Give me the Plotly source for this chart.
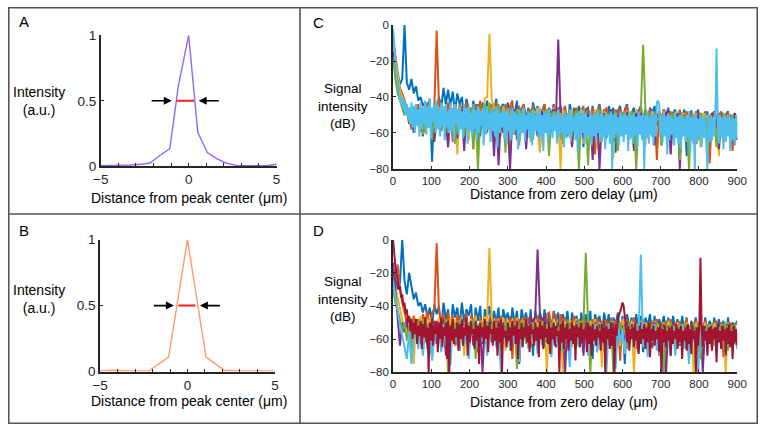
import plotly.graph_objects as go

# ---------------- data ----------------
# Panel A / B : normalised peak profiles
xA = [-5, -4.4, -3.8, -3.3, -2.7, -2.2, -1.6, -1.07, -0.59, 0, 0.52, 1.06, 1.57, 2.1, 2.7, 3.3, 3.8, 4.4, 5]
yA = [0.005, 0.006, 0.008, 0.01, 0.015, 0.025, 0.086, 0.135, 0.61, 1.0, 0.26, 0.105, 0.06, 0.025, 0.007, 0.005, 0.004, 0.004, 0.015]
xB = [-5, -4.3, -3.2, -2.2, -1.08, 0, 1.06, 2.1, 3.2, 4.3, 5]
yB = [0.005, 0.01, 0.005, 0.005, 0.11, 1.0, 0.11, 0.01, 0.005, 0.008, 0.005]
fwhm_A = [-0.7, 0.31]
fwhm_B = [-0.52, 0.45]

# Panels C / D : signal vs distance (dB)
x_um = list(range(0, 901, 6))       # background traces, every 6 um
x_um_fine = list(range(0, 901, 3))  # front traces, every 3 um

C1 = [-5,-22,-28,-33,-30,0,-32,-36,-30,-38,
-34,-42,-40,-45,-43,-48,-41,-76,-44,-47,
-40,-46,-35,-44,-36,-45,-37,-48,-38,-44,
-40,-52,-41,-47,-58,-42,-50,-44,-62,-43,
-49,-42,-55,-45,-48,-41,-60,-46,-44,-53,
-43,-57,-45,-50,-42,-64,-47,-44,-52,-46,
-58,-43,-49,-45,-66,-48,-44,-55,-46,-51,
-44,-59,-47,-45,-53,-48,-62,-44,-50,-46,
-57,-45,-49,-68,-47,-46,-54,-45,-60,-48,
-44,-52,-47,-63,-45,-50,-46,-71,-48,-45,
-55,-47,-44,-58,-49,-46,-65,-48,-45,-53,
-47,-60,-46,-49,-45,-56,-48,-67,-47,-50,
-46,-58,-49,-47,-62,-48,-51,-47,-73,-49,
-48,-55,-50,-47,-61,-49,-52,-48,-66,-50,
-48,-57,-49,-52,-64,-50,-48,-59,-51,-49,
-56]
C2 = [-8,-17,-25,-35,-38,-42,-45,-50,-58,-47,
-55,-44,-59,-46,-52,-43,-56,-48,-45,-3,
-44,-50,-46,-62,-43,-48,-65,-45,-51,-44,
-47,-58,-43,-53,-46,-69,-44,-49,-42,-56,
-45,-60,-47,-44,-52,-43,-66,-46,-50,-44,
-57,-45,-42,-61,-48,-45,-54,-44,-63,-47,
-49,-45,-58,-46,-70,-48,-44,-53,-47,-60,
-45,-51,-46,-64,-48,-45,-56,-47,-67,-49,
-46,-55,-48,-45,-62,-47,-50,-46,-72,-48,
-45,-57,-49,-46,-53,-48,-65,-47,-50,-46,
-59,-48,-45,-54,-49,-68,-47,-51,-46,-61,
-48,-50,-47,-56,-49,-75,-48,-52,-47,-58,
-50,-48,-63,-49,-52,-47,-60,-50,-48,-55,
-49,-66,-48,-51,-50,-59,-48,-53,-77,-50,
-49,-57,-51,-48,-62,-50,-49,-54,-70,-50,
-52]
C3 = [-12,-20,-28,-36,-40,-44,-48,-46,-52,-45,
-50,-47,-55,-46,-60,-48,-52,-47,-62,-49,
-46,-58,-50,-47,-66,-48,-53,-46,-72,-49,
-47,-56,-48,-64,-47,-51,-46,-75,-48,-52,
-41,-40,-5,-41,-46,-55,-47,-62,-45,-50,
-46,-68,-48,-53,-47,-60,-49,-46,-57,-48,
-65,-47,-50,-46,-71,-48,-52,-47,-59,-49,
-46,-56,-48,-80,-47,-51,-49,-63,-47,-55,
-48,-50,-47,-66,-49,-53,-48,-58,-47,-69,
-49,-52,-48,-61,-50,-47,-74,-49,-53,-48,
-57,-50,-48,-64,-49,-52,-47,-60,-50,-48,
-67,-49,-53,-48,-58,-51,-49,-62,-48,-55,
-50,-71,-49,-52,-48,-59,-51,-49,-65,-50,
-53,-49,-57,-51,-68,-49,-52,-50,-61,-49,
-54,-50,-73,-51,-49,-56,-50,-63,-52,-49,
-58]
C4 = [-15,-25,-33,-40,-45,-50,-47,-55,-48,-60,
-46,-53,-49,-62,-47,-57,-50,-48,-65,-51,
-47,-59,-49,-54,-68,-48,-52,-46,-63,-50,
-47,-70,-49,-55,-48,-61,-46,-66,-50,-53,
-48,-58,-50,-47,-73,-49,-78,-51,-60,-48,
-56,-80,-50,-47,-64,-49,-52,-48,-69,-50,
-47,-58,-49,-62,-51,-48,-55,-50,-66,-49,
-47,-53,-8,-49,-60,-48,-52,-50,-68,-49,
-47,-57,-50,-63,-48,-51,-49,-75,-50,-48,
-80,-52,-49,-59,-50,-47,-65,-49,-53,-48,
-61,-50,-49,-56,-51,-70,-49,-52,-48,-62,
-50,-49,-58,-51,-67,-49,-53,-50,-60,-49,
-48,-72,-50,-54,-49,-80,-51,-50,-63,-49,
-55,-50,-66,-51,-49,-58,-50,-62,-52,-49,
-57,-50,-69,-51,-49,-60,-52,-50,-55,-49,
-64]
C5 = [-18,-30,-38,-42,-46,-50,-48,-54,-47,-52,
-49,-56,-48,-61,-50,-53,-47,-64,-49,-55,
-48,-58,-46,-51,-60,-49,-47,-66,-50,-53,
-48,-62,-49,-56,-47,-69,-48,-80,-50,-54,
-44,-58,-43,-52,-47,-63,-44,-55,-48,-71,
-46,-53,-49,-60,-47,-67,-48,-52,-50,-58,
-47,-64,-49,-54,-48,-61,-50,-47,-73,-49,
-52,-48,-59,-50,-66,-49,-53,-48,-62,-50,
-47,-80,-49,-56,-48,-78,-51,-50,-60,-49,
-47,-65,-50,-53,-49,-58,-51,-48,-70,-50,
-49,-57,-50,-63,-48,-52,-80,-50,-48,-11,
-47,-56,-50,-62,-49,-53,-51,-67,-49,-55,
-50,-60,-49,-53,-51,-75,-49,-52,-50,-80,
-51,-58,-50,-64,-49,-55,-51,-61,-50,-53,
-52,-68,-50,-56,-49,-62,-51,-53,-50,-59,
-55]
C6 = [-2,-12,-20,-28,-32,-36,-38,-44,-40,-47,
-42,-50,-44,-52,-46,-55,-43,-57,-45,-60,
-44,-56,-47,-62,-43,-58,-46,-55,-42,-61,
-45,-57,-41,-63,-46,-54,-44,-60,-42,-58,
-47,-62,-43,-56,-45,-64,-44,-57,-48,-60,
-43,-59,-46,-65,-44,-55,-47,-61,-45,-58,
-48,-63,-44,-57,-46,-66,-45,-59,-49,-62,
-44,-58,-47,-64,-45,-60,-48,-56,-46,-67,
-47,-61,-45,-58,-49,-65,-46,-59,-48,-62,
-45,-68,-47,-60,-49,-57,-46,-63,-48,-66,
-47,-59,-50,-64,-46,-61,-48,-58,-50,-69,
-47,-62,-49,-60,-46,-65,-50,-58,-48,-63,
-49,-67,-47,-61,-50,-59,-48,-64,-46,-62,
-50,-70,-48,-60,-49,-65,-47,-61,-51,-63,
-48,-59,-50,-66,-47,-62,-49,-60,-51,-68,
-48,-63,-50,-61,-47,-65,-49,-59,-51,-64,
-49,-71,-48,-62,-50,-60,-47,-66,-49,-63,
-51,-61,-48,-67,-50,-62,-49,-64,-47,-60,
-50,-65,-48,-62,-51,-69,-49,-61,-50,-66,
-48,-80,-50,-63,-49,-60,-51,-67,-48,-62,
-50,-65,-49,-61,-51,-70,-48,-63,-50,-66,
-49,-62,-51,-68,-48,-61,-50,-64,-49,-80,
-50,-63,-48,-66,-51,-61,-49,-67,-50,-62,
-43,-42,-44,-60,-50,-65,-49,-62,-51,-72,
-49,-64,-50,-61,-52,-67,-48,-63,-51,-66,
-50,-69,-49,-62,-52,-65,-50,-63,-48,-71,
-51,-64,-50,-80,-49,-66,-52,-62,-50,-68,
-51,-63,-49,-67,-80,-52,-65,-50,-64,-51,
-62,-50,-13,-52,-66,-50,-63,-51,-69,-49,
-65,-52,-62,-50,-70,-51,-64,-52,-67,-50,
-63]

D1 = [-18,-24,-30,-26,0,-25,-33,-20,-28,-36,
-32,-40,-38,-44,-39,-47,-41,-52,-39,-45,
-40,-55,-38,-48,-42,-60,-39,-47,-41,-53,
-38,-50,-42,-46,-39,-58,-41,-49,-40,-63,
-42,-47,-40,-54,-43,-50,-41,-66,-42,-48,
-44,-57,-41,-51,-43,-62,-42,-49,-44,-56,
-42,-70,-43,-50,-44,-58,-42,-53,-45,-61,
-43,-49,-44,-67,-45,-52,-43,-59,-44,-51,
-46,-64,-44,-53,-45,-57,-43,-72,-45,-50,
-46,-60,-44,-54,-45,-63,-47,-51,-44,-58,
-46,-75,-45,-53,-47,-61,-45,-55,-46,-68,
-47,-52,-45,-59,-46,-64,-48,-53,-46,-57,
-47,-70,-46,-54,-48,-62,-46,-56,-47,-66,
-49,-53,-47,-60,-48,-73,-47,-55,-49,-58,
-47,-65,-48,-54,-49,-61,-47,-57,-50,-52,
-49]
D2 = [-20,-22,-15,-30,-38,-44,-50,-47,-55,-46,
-52,-48,-60,-45,-50,-43,-57,-44,-42,-2,
-43,-49,-45,-58,-44,-52,-46,-64,-45,-50,
-47,-56,-44,-61,-46,-51,-45,-68,-47,-53,
-46,-59,-48,-45,-55,-47,-63,-46,-50,-48,
-57,-46,-72,-47,-52,-48,-60,-46,-54,-47,
-65,-48,-51,-46,-58,-47,-62,-45,-44,-53,
-44,-46,-60,-45,-50,-47,-66,-48,-52,-46,
-58,-48,-63,-47,-51,-49,-69,-48,-55,-47,
-60,-49,-52,-48,-64,-47,-57,-50,-48,-73,
-49,-54,-48,-61,-50,-47,-66,-49,-53,-48,
-59,-50,-62,-49,-52,-48,-70,-50,-55,-49,
-60,-48,-53,-50,-65,-49,-57,-51,-48,-62,
-50,-54,-49,-68,-51,-53,-49,-59,-50,-63,
-51,-49,-56,-50,-71,-51,-52,-50,-60,-51,
-50]
D3 = [-22,-28,-36,-42,-48,-55,-50,-62,-47,-75,
-49,-58,-46,-68,-48,-54,-47,-72,-49,-56,
-47,-60,-48,-52,-66,-47,-55,-48,-62,-50,
-47,-70,-49,-53,-48,-59,-46,-64,-49,-55,
-47,-48,-5,-47,-52,-60,-48,-56,-47,-67,
-49,-53,-48,-61,-47,-74,-49,-55,-48,-58,
-50,-63,-48,-54,-49,-60,-47,-80,-49,-56,
-48,-62,-50,-53,-80,-49,-58,-48,-65,-50,
-48,-57,-49,-61,-50,-68,-49,-54,-48,-60,
-50,-77,-49,-55,-51,-62,-49,-57,-50,-64,
-48,-59,-50,-55,-49,-80,-51,-58,-49,-63,
-50,-56,-52,-66,-49,-60,-51,-54,-50,-70,
-49,-57,-51,-62,-50,-58,-52,-65,-50,-56,
-51,-80,-50,-59,-52,-63,-50,-57,-51,-67,
-50,-60,-52,-55,-51,-80,-50,-61,-52,-58,
-62]
D4 = [-14,-30,-45,-64,-50,-56,-48,-60,-52,-58,
-49,-62,-50,-55,-48,-66,-51,-57,-49,-63,
-50,-58,-48,-70,-51,-56,-49,-61,-50,-67,
-48,-55,-51,-60,-49,-64,-50,-57,-52,-80,
-49,-59,-50,-62,-51,-56,-49,-68,-50,-58,
-52,-63,-50,-57,-49,-75,-51,-60,-50,-55,
-46,-52,-45,-6,-44,-50,-46,-62,-49,-57,
-51,-65,-50,-59,-52,-80,-50,-58,-51,-63,
-49,-56,-51,-70,-50,-60,-52,-57,-50,-66,
-51,-59,-49,-62,-52,-56,-50,-73,-51,-58,
-52,-64,-50,-60,-51,-57,-53,-68,-50,-61,
-52,-58,-51,-65,-50,-59,-53,-62,-51,-80,
-52,-60,-50,-56,-53,-64,-51,-59,-52,-67,
-50,-61,-53,-58,-51,-80,-52,-62,-50,-60,
-53,-65,-51,-59,-52,-70,-51,-58,-53,-63,
-57]
D5 = [-30,-38,-42,-48,-55,-50,-61,-52,-66,-49,
-57,-50,-63,-48,-55,-51,-69,-49,-58,-52,
-62,-50,-56,-48,-80,-51,-59,-50,-64,-49,
-57,-52,-61,-50,-55,-48,-72,-51,-58,-50,
-63,-49,-56,-51,-60,-50,-67,-52,-58,-49,
-62,-51,-55,-50,-78,-52,-59,-49,-63,-51,
-57,-50,-61,-52,-56,-49,-65,-51,-58,-50,
-62,-52,-57,-49,-68,-51,-60,-50,-55,-52,
-64,-49,-58,-50,-8,-51,-80,-50,-60,-52,
-57,-50,-63,-51,-58,-49,-80,-52,-61,-50,
-56,-51,-66,-50,-59,-52,-62,-51,-57,-50,
-64,-52,-58,-51,-61,-50,-69,-52,-80,-51,
-60,-50,-57,-52,-63,-51,-59,-50,-66,-52,
-58,-51,-62,-50,-72,-52,-60,-51,-57,-50,
-64,-52,-59,-51,-61,-50,-67,-52,-58,-51,
-60]
D6 = [-25,-35,-45,-52,-58,-65,-72,-56,-75,-60,
-54,-66,-52,-70,-55,-62,-50,-73,-56,-60,
-53,-68,-51,-64,-57,-76,-52,-61,-55,-67,
-50,-63,-54,-72,-52,-58,-49,-66,-55,-62,
-53,-70,-51,-60,-56,-65,-52,-80,-54,-61,
-50,-67,-55,-63,-52,-74,-51,-60,-56,-66,
-53,-62,-50,-69,-55,-64,-52,-60,-54,-71,
-51,-63,-56,-67,-52,-61,-54,-77,-53,-62,
-50,-65,-55,-60,-52,-70,-54,-63,-51,-68,
-55,-61,-53,-80,-52,-64,-55,-78,-51,-62,
-54,-69,-52,-63,-55,-66,-53,-60,-9,-65,
-52,-71,-54,-62,-51,-67,-55,-80,-53,-64,
-56,-61,-52,-70,-54,-63,-51,-66,-55,-75,
-53,-62,-56,-80,-52,-65,-54,-68,-51,-63,
-55,-70,-53,-61,-56,-67,-52,-64,-54,-60,
-66]
D7 = [0,-10,-16,-20,-25,-30,-28,-35,-33,-40,
-38,-45,-42,-50,-46,-55,-48,-60,-50,-57,
-48,-63,-52,-58,-49,-66,-51,-59,-47,-62,
-53,-80,-50,-61,-48,-64,-52,-57,-49,-68,
-51,-60,-47,-65,-53,-58,-50,-72,-49,-80,
-52,-61,-48,-63,-54,-59,-50,-67,-51,-60,
-49,-64,-53,-58,-47,-70,-52,-62,-50,-57,
-54,-66,-49,-61,-52,-75,-50,-59,-53,-63,
-48,-60,-52,-68,-50,-57,-54,-64,-49,-61,
-53,-70,-51,-62,-48,-80,-52,-59,-55,-65,
-50,-61,-53,-67,-49,-58,-52,-63,-51,-72,
-54,-60,-50,-65,-53,-59,-48,-62,-52,-68,
-51,-57,-54,-64,-50,-61,-53,-71,-49,-60,
-52,-66,-50,-59,-54,-63,-51,-69,-53,-60,
-50,-64,-52,-58,-55,-80,-51,-62,-49,-66,
-53,-60,-51,-67,-54,-61,-50,-63,-52,-73,
-51,-59,-53,-65,-50,-62,-54,-60,-52,-68,
-50,-63,-53,-70,-51,-61,-54,-64,-52,-59,
-55,-67,-51,-62,-53,-80,-52,-60,-54,-66,
-50,-64,-53,-80,-51,-58,-48,-46,-44,-41,
-38,-40,-46,-55,-62,-52,-67,-54,-60,-53,
-65,-51,-61,-55,-69,-52,-63,-54,-60,-51,
-66,-53,-62,-50,-71,-54,-61,-52,-64,-55,
-60,-53,-68,-51,-80,-54,-62,-52,-65,-55,
-61,-53,-70,-52,-63,-55,-60,-51,-66,-54,
-62,-52,-72,-55,-61,-53,-67,-51,-63,-54,
-69,-52,-60,-55,-80,-53,-64,-51,-11,-54,
-65,-52,-61,-55,-70,-53,-63,-52,-67,-54,
-60,-53,-74,-51,-62,-55,-66,-52,-61,-54,
-68,-53,-63,-51,-65,-55,-72,-52,-62,-54,
-64]

series_C = [C1, C2, C3, C4, C5, C6]
series_D = [D1, D2, D3, D4, D5, D6, D7]
colors = ["#0072BD", "#D95319", "#EDB120", "#7E2F8E", "#77AC30", "#4DBEEE", "#A2142F"]

x_ticks_um = [0, 100, 200, 300, 400, 500, 600, 700, 800, 900]
y_ticks_db = [0, -20, -40, -60, -80]

# ---------------- figure ----------------
W, H = 768, 432
FONT = "Liberation Sans, Arial, sans-serif"
INK = "#262626"

def px(x):
    return x / W

def py(y):
    return 1 - y / H

def xgrid(s):
    return x_um_fine if len(s) > len(x_um) else x_um

fig = go.Figure()

fig.add_trace(go.Scatter(x=xA, y=yA, mode="lines", line=dict(color="#9068f8", width=1.4),
                         xaxis="x", yaxis="y", showlegend=False))
fig.add_trace(go.Scatter(x=fwhm_A, y=[0.5, 0.5], mode="lines", line=dict(color="#ff1a1a", width=2),
                         xaxis="x", yaxis="y", showlegend=False))
fig.add_trace(go.Scatter(x=xB, y=yB, mode="lines", line=dict(color="#ff9a6a", width=1.4),
                         xaxis="x2", yaxis="y2", showlegend=False))
fig.add_trace(go.Scatter(x=fwhm_B, y=[0.5, 0.5], mode="lines", line=dict(color="#ff1a1a", width=2),
                         xaxis="x2", yaxis="y2", showlegend=False))

for s, c in zip(series_C, colors):
    xs = xgrid(s)
    fig.add_trace(go.Scatter(x=xs[:len(s)], y=s, mode="lines", line=dict(color=c, width=2.0),
                             xaxis="x3", yaxis="y3", showlegend=False))
for s, c in zip(series_D, colors):
    xs = xgrid(s)
    fig.add_trace(go.Scatter(x=xs[:len(s)], y=s, mode="lines", line=dict(color=c, width=2.0),
                             xaxis="x4", yaxis="y4", showlegend=False))

ax_common = dict(showline=True, linecolor=INK, linewidth=1.7, ticks="inside", ticklen=3,
                 tickwidth=1, tickcolor=INK, showgrid=False, zeroline=False,
                 tickfont=dict(family=FONT, size=13.5, color=INK), fixedrange=True)

small_x = dict(ax_common, range=[-5, 5], tickvals=[-5, 0, 5],
               minor=dict(dtick=1, tick0=0, ticks="inside", ticklen=3, tickcolor=INK, showgrid=False))
small_y = dict(ax_common, range=[0, 1], tickvals=[0, 0.5, 1], ticktext=["0", "0.5", "1"])

big_common = dict(ax_common, tickfont=dict(family=FONT, size=11.5, color=INK))
big_x = dict(big_common, range=[0, 900], tickvals=x_ticks_um)
big_y = dict(big_common, range=[-80, 0], tickvals=y_ticks_db)

dom_A_x = [px(95), px(275)]
dom_A_y = [py(165), py(29.3)]
dom_B_x = [px(94.3), px(273.3)]
dom_B_y = [py(377.7), py(241)]
dom_C_x = [px(394.3), px(746.7)]
dom_C_y = [py(167.7), py(18.7)]
dom_D_x = [px(394.3), px(746.7)]
dom_D_y = [py(378.3), py(241)]

fig.update_layout(
    width=W, height=H, margin=dict(l=0, r=0, t=0, b=0),
    paper_bgcolor="white", plot_bgcolor="white",
    font=dict(family=FONT, color=INK),
    xaxis=dict(small_x, domain=dom_A_x, anchor="y"),
    yaxis=dict(small_y, domain=dom_A_y, anchor="x"),
    xaxis2=dict(small_x, domain=dom_B_x, anchor="y2"),
    yaxis2=dict(small_y, domain=dom_B_y, anchor="x2"),
    xaxis3=dict(big_x, domain=dom_C_x, anchor="y3"),
    yaxis3=dict(big_y, domain=dom_C_y, anchor="x3"),
    xaxis4=dict(big_x, domain=dom_D_x, anchor="y4"),
    yaxis4=dict(big_y, domain=dom_D_y, anchor="x4"),
)

ann = []
# FWHM arrows
for xr, yr, (l, r) in [("x", "y", fwhm_A), ("x2", "y2", fwhm_B)]:
    gap = 0.26
    ln = 1.23
    ann.append(dict(x=l - gap, y=0.5, ax=l - gap - ln, ay=0.5, xref=xr, yref=yr, axref=xr, ayref=yr,
                    text="", showarrow=True, arrowhead=2, arrowsize=1, arrowwidth=1.6, arrowcolor="black"))
    ann.append(dict(x=r + gap, y=0.5, ax=r + gap + ln, ay=0.5, xref=xr, yref=yr, axref=xr, ayref=yr,
                    text="", showarrow=True, arrowhead=2, arrowsize=1, arrowwidth=1.6, arrowcolor="black"))

def label(text, x, y, size=14, xanchor="center"):
    ann.append(dict(text=text, x=px(x), y=py(y), xref="paper", yref="paper", showarrow=False,
                    xanchor=xanchor, yanchor="middle", font=dict(family=FONT, size=size, color="black")))

label("A", 9, 15, 15, "left")
label("B", 9, 232, 15, "left")
label("C", 310, 16, 15, "left")
label("D", 310, 232, 15, "left")

label("Intensity<br>(a.u.)", 32, 97)
label("Intensity<br>(a.u.)", 32, 303)
label("Signal<br>intensity<br>(dB)", 343, 102.5, 13.5)
label("Signal<br>intensity<br>(dB)", 343, 303, 13.5)

label("Distance from peak center (μm)", 185.5, 198)
label("Distance from peak center (μm)", 185, 408.5)
label("Distance from zero delay (μm)", 569, 194)
label("Distance from zero delay (μm)", 569, 409.5)

fig.update_layout(annotations=ann)

# panel frame lines
frame = "#555555"
shapes = [
    dict(type="rect", xref="paper", yref="paper", x0=px(0.8), y0=py(431.2), x1=px(767.2), y1=py(0.8),
         line=dict(color=frame, width=1.6)),
    dict(type="line", xref="paper", yref="paper", x0=px(299), x1=px(299), y0=0, y1=1,
         line=dict(color=frame, width=1.6)),
    dict(type="line", xref="paper", yref="paper", x0=0, x1=1, y0=py(214.5), y1=py(214.5),
         line=dict(color=frame, width=1.6)),
]
fig.update_layout(shapes=shapes)

fig.write_html("out.html", config={"displayModeBar": False},
               post_script="document.body.style.margin='0px';document.body.style.overflow='hidden';")
